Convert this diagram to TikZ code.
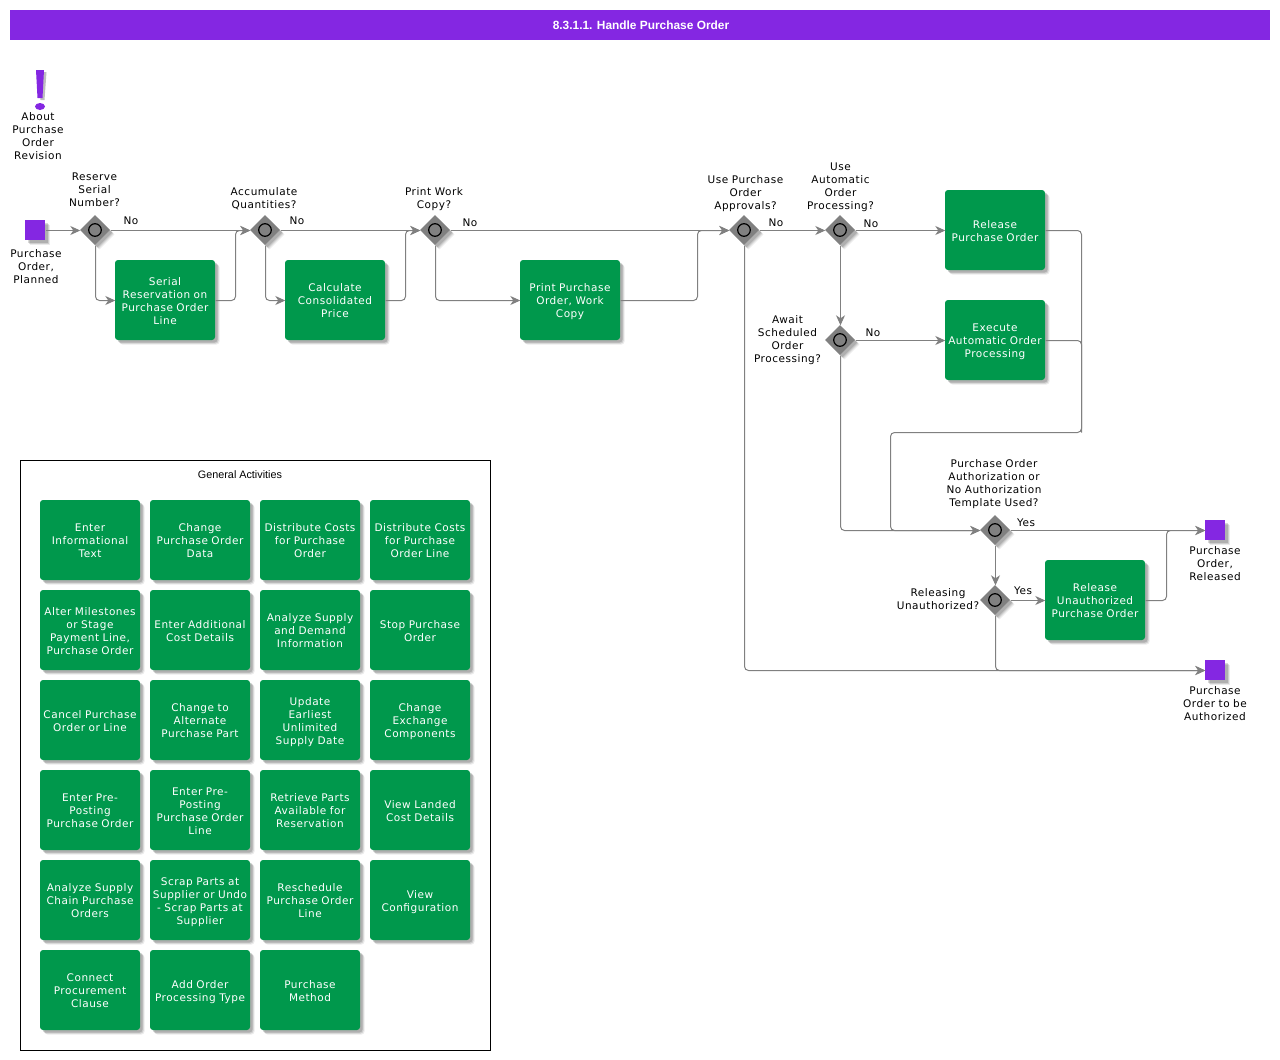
\documentclass[tikz,border=0pt]{standalone}
\usepackage{fontspec}
\setmainfont[LetterSpace=5]{DejaVu Sans}
\newfontfamily\headfont{Liberation Sans}
\usetikzlibrary{arrows.meta,shadows,shapes.geometric}
\definecolor{stepgreen}{HTML}{00984C}
\definecolor{headpurple}{HTML}{8427E2}
\definecolor{linegray}{HTML}{808080}

\begin{document}
\begin{tikzpicture}[x = 1pt,
                    y = -1pt,
                    color = {black}]
% style of shapes
\tikzset{shadowstyle/.style={drop shadow={shadow xshift=4.5pt,shadow yshift=-4.5pt,fill=black,opacity=.08},
  drop shadow={shadow xshift=3.5pt,shadow yshift=-3.5pt,fill=black,opacity=.12},
  drop shadow={shadow xshift=2.5pt,shadow yshift=-2.5pt,fill=black,opacity=.15}}}
\tikzset{twostruts/.style={execute at begin node=\rule{0pt}{12.9pt},execute at end node=\rule[-3.9pt]{0pt}{3.9pt}}}
\tikzset{activitystyle/.style={shadowstyle,twostruts,fill=stepgreen,rounded corners=3pt,text width=100pt,minimum height=80pt,inner sep=0pt,align=center,text=white,font=\fontsize{10.5}{13}\selectfont}}
\tikzset{decisionstyle/.style={shadowstyle,diamond,fill=linegray,minimum size=30pt,inner sep=0pt,
  path picture={\draw[black,line width=1.2pt] (path picture bounding box.center) circle (6.3pt);}}}
\tikzset{eventstyle/.style={shadowstyle,fill=headpurple,minimum size=20pt,inner sep=0pt}}
\tikzset{labelstyle/.style={twostruts,inner sep=0pt,text width=120pt,align=center,font=\fontsize{10.5}{13}\selectfont}}
\tikzset{plainflow/.style={linegray,line width=1pt,rounded corners=4pt,transform canvas={xshift=.5pt,yshift=-.5pt}}}
\tikzset{flowstyle/.style={plainflow,arrows = -{Stealth[length=10pt,width=9pt,inset=3pt]}}}
\useasboundingbox (0,0) rectangle (1280,1060);

%title
\node (title) [fill=headpurple,minimum width=1260pt,minimum height=30pt,inner sep=0pt] at (640,25) {};
\node (titletext) [text=white,font=\headfont\bfseries\fontsize{11.9}{14}\selectfont] at (641,25) {8.3.1.1. Handle Purchase Order};

%about sign
\fill[black,opacity=.25] (38.5,72) -- (46.5,72) -- (44.5,100) -- (40.5,100) -- cycle;
\fill[headpurple] (36,70) -- (44,70) -- (42.5,98) -- (37.5,98) -- cycle;
\fill[headpurple] (40,106.5) ellipse (5pt and 3.5pt);
\node (about) [labelstyle] at (38,135) {About\\Purchase\\Order\\Revision};

%panel
\draw[black] (20.5,460.5) rectangle (490.5,1050.5);
\node (panel) [font=\headfont\fontsize{10.8}{13}\selectfont] at (240,475) {General Activities};

%coordinates of bends
\coordinate (B1) at (235,300);
\coordinate (B2) at (235,230);
\coordinate (B3) at (405,300);
\coordinate (B4) at (405,230);
\coordinate (B5) at (697,300);
\coordinate (B6) at (697,230);
\coordinate (B7) at (1081,230);
\coordinate (B8) at (1081,432);
\coordinate (B9) at (890,432);
\coordinate (B10) at (890,530);
\coordinate (B11) at (1081,340);
\coordinate (B12) at (1166,600);
\coordinate (B13) at (1166,530);

%events
\node (start) [eventstyle] at (35,230) {};
\node (released) [eventstyle] at (1215,530) {};
\node (toauth) [eventstyle] at (1215,670) {};

%decisions
\node (D1) [decisionstyle] at (95,230) {};
\node (D2) [decisionstyle] at (265,230) {};
\node (D3) [decisionstyle] at (435,230) {};
\node (D4) [decisionstyle] at (744,230) {};
\node (D5) [decisionstyle] at (840,230) {};
\node (D6) [decisionstyle] at (840,340) {};
\node (D7) [decisionstyle] at (995,530) {};
\node (D8) [decisionstyle] at (995,600) {};

%activities of the flow
\node (serial) [activitystyle] at (165,300) {Serial\\Reservation on\\Purchase Order\\Line};
\node (calc) [activitystyle] at (335,300) {Calculate\\Consolidated\\Price};
\node (print) [activitystyle] at (570,300) {Print Purchase\\Order, Work\\Copy};
\node (release) [activitystyle] at (995,230) {Release\\Purchase Order};
\node (execute) [activitystyle] at (995,340) {Execute\\Automatic Order\\Processing};
\node (unauth) [activitystyle] at (1095,600) {Release\\Unauthorized\\Purchase Order};

%connectors
\draw[flowstyle] (start.east) -- (D1.west);
\draw[flowstyle] (D1.east) -- (D2.west);
\draw[flowstyle] (D1.south) |- (serial.west);
\draw[flowstyle] (serial.east) -- (B1) -- (B2) -- (D2.west);
\draw[flowstyle] (D2.east) -- (D3.west);
\draw[flowstyle] (D2.south) |- (calc.west);
\draw[flowstyle] (calc.east) -- (B3) -- (B4) -- (D3.west);
\draw[flowstyle] (D3.east) -- (D4.west);
\draw[flowstyle] (D3.south) |- (print.west);
\draw[flowstyle] (print.east) -- (B5) -- (B6) -- (D4.west);
\draw[flowstyle] (D4.east) -- (D5.west);
\draw[flowstyle] (D5.east) -- (release.west);
\draw[flowstyle] (D5.south) -- (D6.north);
\draw[flowstyle] (D6.east) -- (execute.west);
\draw[flowstyle] (release.east) -- (B7) -- (B8) -- (B9) -- (B10) -- (D7.west);
\draw[plainflow] (execute.east) -- (B11) -- (B8);
\draw[flowstyle] (D6.south) |- (D7.west);
\draw[flowstyle] (D7.east) -- (released.west);
\draw[flowstyle] (D7.south) -- (D8.north);
\draw[flowstyle] (D8.east) -- (unauth.west);
\draw[flowstyle] (unauth.east) -- (B12) -- (B13) -- (released.west);
\draw[flowstyle] (D8.south) |- (toauth.west);
\draw[flowstyle] (D4.south) |- (toauth.west);

%labels of events and decisions
\node (Lstart) [labelstyle] at (36,266) {Purchase\\Order,\\Planned};
\node (Lreleased) [labelstyle] at (1215,563) {Purchase\\Order,\\Released};
\node (Ltoauth) [labelstyle] at (1215,703) {Purchase\\Order to be\\Authorized};
\node (L1) [labelstyle] at (94.5,189) {Reserve\\Serial\\Number?};
\node (L2) [labelstyle] at (264,197) {Accumulate\\Quantities?};
\node (L3) [labelstyle] at (434,197) {Print Work\\Copy?};
\node (L4) [labelstyle] at (745.5,192) {Use Purchase\\Order\\Approvals?};
\node (L5) [labelstyle] at (840.5,185) {Use\\Automatic\\Order\\Processing?};
\node (L6) [labelstyle] at (787.5,338) {Await\\Scheduled\\Order\\Processing?};
\node (L7) [labelstyle] at (994,482) {Purchase Order\\Authorization or\\No Authorization\\Template Used?};
\node (L8) [labelstyle] at (938,598.5) {Releasing\\Unauthorized?};

%labels of connectors
\node (N1) [labelstyle] at (131,220) {No};
\node (N2) [labelstyle] at (297,220) {No};
\node (N3) [labelstyle] at (470,222) {No};
\node (N4) [labelstyle] at (776,222) {No};
\node (N5) [labelstyle] at (871,223) {No};
\node (N6) [labelstyle] at (873,332) {No};
\node (Y1) [labelstyle] at (1026,522) {Yes};
\node (Y2) [labelstyle] at (1023,590) {Yes};

%general activities
\node (G1) [activitystyle] at (90,540) {Enter\\Informational\\Text};
\node (G2) [activitystyle] at (200,540) {Change\\Purchase Order\\Data};
\node (G3) [activitystyle] at (310,540) {Distribute Costs\\for Purchase\\Order};
\node (G4) [activitystyle] at (420,540) {Distribute Costs\\for Purchase\\Order Line};
\node (G5) [activitystyle] at (90,630) {Alter Milestones\\or Stage\\Payment Line,\\Purchase Order};
\node (G6) [activitystyle] at (200,630) {Enter Additional\\Cost Details};
\node (G7) [activitystyle] at (310,630) {Analyze Supply\\and Demand\\Information};
\node (G8) [activitystyle] at (420,630) {Stop Purchase\\Order};
\node (G9) [activitystyle] at (90,720) {Cancel Purchase\\Order or Line};
\node (G10) [activitystyle] at (200,720) {Change to\\Alternate\\Purchase Part};
\node (G11) [activitystyle] at (310,720) {Update\\Earliest\\Unlimited\\Supply Date};
\node (G12) [activitystyle] at (420,720) {Change\\Exchange\\Components};
\node (G13) [activitystyle] at (90,810) {Enter Pre-\\Posting\\Purchase Order};
\node (G14) [activitystyle] at (200,810) {Enter Pre-\\Posting\\Purchase Order\\Line};
\node (G15) [activitystyle] at (310,810) {Retrieve Parts\\Available for\\Reservation};
\node (G16) [activitystyle] at (420,810) {View Landed\\Cost Details};
\node (G17) [activitystyle] at (90,900) {Analyze Supply\\Chain Purchase\\Orders};
\node (G18) [activitystyle] at (200,900) {Scrap Parts at\\Supplier or Undo\\- Scrap Parts at\\Supplier};
\node (G19) [activitystyle] at (310,900) {Reschedule\\Purchase Order\\Line};
\node (G20) [activitystyle] at (420,900) {View\\Configuration};
\node (G21) [activitystyle] at (90,990) {Connect\\Procurement\\Clause};
\node (G22) [activitystyle] at (200,990) {Add Order\\Processing Type};
\node (G23) [activitystyle] at (310,990) {Purchase\\Method};
\end{tikzpicture}
\end{document}
